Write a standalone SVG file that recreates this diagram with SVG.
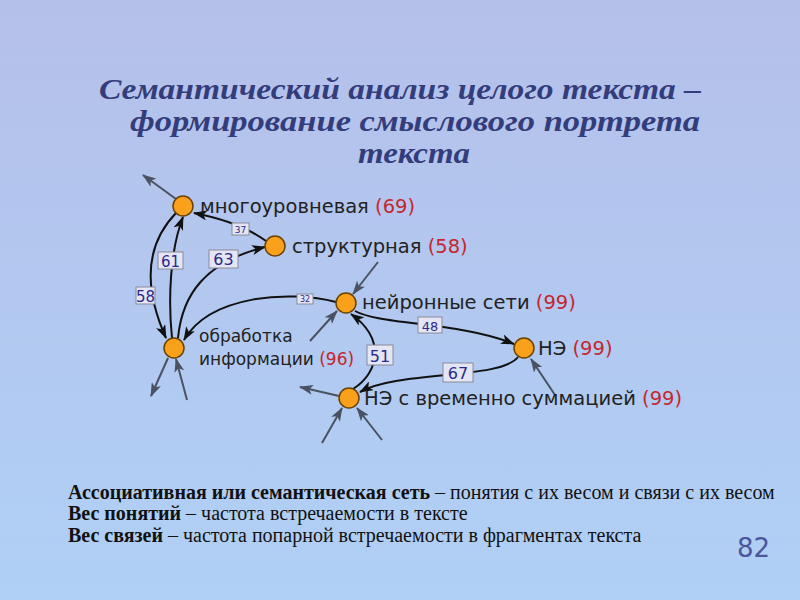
<svg xmlns="http://www.w3.org/2000/svg" width="800" height="600" viewBox="0 0 800 600">
<defs>
<linearGradient id="bg" x1="0" y1="0" x2="0" y2="1">
<stop offset="0" stop-color="#b5c0ea"/>
<stop offset="1" stop-color="#b0d0f5"/>
</linearGradient>
<marker id="ah" markerUnits="userSpaceOnUse" markerWidth="14" markerHeight="10" refX="13" refY="5" orient="auto">
<path d="M0,0 L14,5 L0,10 L3.5,5 z" fill="#111"/>
</marker>
<marker id="ag" markerUnits="userSpaceOnUse" markerWidth="14" markerHeight="10" refX="13" refY="5" orient="auto">
<path d="M0,0 L14,5 L0,10 L3.5,5 z" fill="#4a5262"/>
</marker>
</defs>
<style>
.title{font-family:"Liberation Serif",serif;font-weight:bold;font-style:italic;font-size:30px;fill:#343d7c;text-anchor:middle}
.node circle{fill:#f9a11b;stroke:#6b4200;stroke-width:1.5}
.lbl{font-family:"DejaVu Sans",sans-serif;font-size:19.5px;fill:#222}
.sm{font-size:17px}
.num{fill:#c4262e}
.e{fill:none;stroke:#111;stroke-width:2;marker-end:url(#ah)}
.s{fill:none;stroke:#4a5262;stroke-width:2;marker-end:url(#ag)}
.wb rect{fill:#e4e5f5;stroke:#8a8a9a;stroke-width:1}
.wb text{font-family:"DejaVu Sans",sans-serif;fill:#2b2a8c;text-anchor:middle}
.foot{font-family:"Liberation Serif",serif;font-size:20px;fill:#111}
.foot .b{font-weight:bold;font-size:20px}
</style>
<rect width="800" height="600" fill="url(#bg)"/>
<text class="title" x="400" y="99" textLength="602" lengthAdjust="spacingAndGlyphs">Семантический анализ целого текста –</text>
<text class="title" x="415" y="131" textLength="570" lengthAdjust="spacingAndGlyphs">формирование смыслового портрета</text>
<text class="title" x="414" y="163" textLength="112" lengthAdjust="spacingAndGlyphs">текста</text>

<g id="connectors">
<path class="e" d="M266,241 Q240,222 194,213"/>
<path class="e" d="M178,338 C182,295 205,262 265,247"/>
<path class="e" d="M172,338 C168,300 170,250 183,217"/>
<path class="e" d="M176,213 C150,240 140,280 166,338"/>
<path class="e" d="M336,302 C290,290 210,295 184,340"/>
<path class="e" d="M355,311 C380,325 460,322 514,344"/>
<path class="e" d="M518,357 C500,380 400,370 360,392"/>
<path class="e" d="M353,389 C380,372 385,338 351,314"/>
<path class="s" d="M176,199 L143,175"/>
<path class="s" d="M378,262 L353,294"/>
<path class="s" d="M310,341 L337,311"/>
<path class="s" d="M168,358 L151,396"/>
<path class="s" d="M187,400 L176,359"/>
<path class="s" d="M339,396 L300,387"/>
<path class="s" d="M322,443 L342,408"/>
<path class="s" d="M382,440 L357,408"/>
<path class="s" d="M555,395 L531,359"/>
<g class="wb">
<rect x="232" y="223" width="17" height="12"/><text x="240.5" y="232.5" font-size="9">37</text>
<rect x="209" y="250" width="29" height="18"/><text x="223.5" y="265" font-size="16">63</text>
<rect x="158" y="252" width="25" height="17"/><text x="170.5" y="266.5" font-size="15">61</text>
<rect x="136" y="287" width="19" height="17"/><text x="145.5" y="301.5" font-size="15">58</text>
<rect x="297" y="294" width="16" height="10"/><text x="305" y="302" font-size="8">32</text>
<rect x="418" y="317" width="24" height="16"/><text x="430" y="330.5" font-size="13">48</text>
<rect x="443" y="363" width="30" height="19"/><text x="458" y="379" font-size="16">67</text>
<rect x="367" y="345" width="26" height="20"/><text x="380" y="361.5" font-size="16">51</text>
</g>
</g>

<g id="n-mnogo" class="node"><circle cx="183" cy="206" r="10"/><text class="lbl" x="200" y="213">многоуровневая <tspan class="num">(69)</tspan></text></g>
<g id="n-strukt" class="node"><circle cx="275" cy="246" r="10"/><text class="lbl" x="292" y="253">структурная <tspan class="num">(58)</tspan></text></g>
<g id="n-neuro" class="node"><circle cx="346" cy="303" r="10"/><text class="lbl" x="362" y="309">нейронные сети <tspan class="num">(99)</tspan></text></g>
<g id="n-obr" class="node"><circle cx="174" cy="348" r="10"/><text class="lbl sm" x="199" y="342">обработка</text><text class="lbl sm" x="199" y="365">информации <tspan class="num">(96)</tspan></text></g>
<g id="n-ne" class="node"><circle cx="524" cy="348" r="10"/><text class="lbl" x="538" y="355">НЭ <tspan class="num">(99)</tspan></text></g>
<g id="n-nevr" class="node"><circle cx="349" cy="398" r="10"/><text class="lbl" x="364" y="405">НЭ с временно суммацией <tspan class="num">(99)</tspan></text></g>

<text class="foot" x="68" y="499"><tspan class="b">Ассоциативная или семантическая сеть</tspan> – понятия с их весом и связи с их весом</text>
<text class="foot" x="68" y="520"><tspan class="b">Вес понятий</tspan> – частота встречаемости в тексте</text>
<text class="foot" x="68" y="542"><tspan class="b">Вес связей</tspan> – частота попарной встречаемости в фрагментах текста</text>
<text x="737" y="557" font-family="DejaVu Sans,sans-serif" font-size="26" fill="#4b579a">82</text>
</svg>
